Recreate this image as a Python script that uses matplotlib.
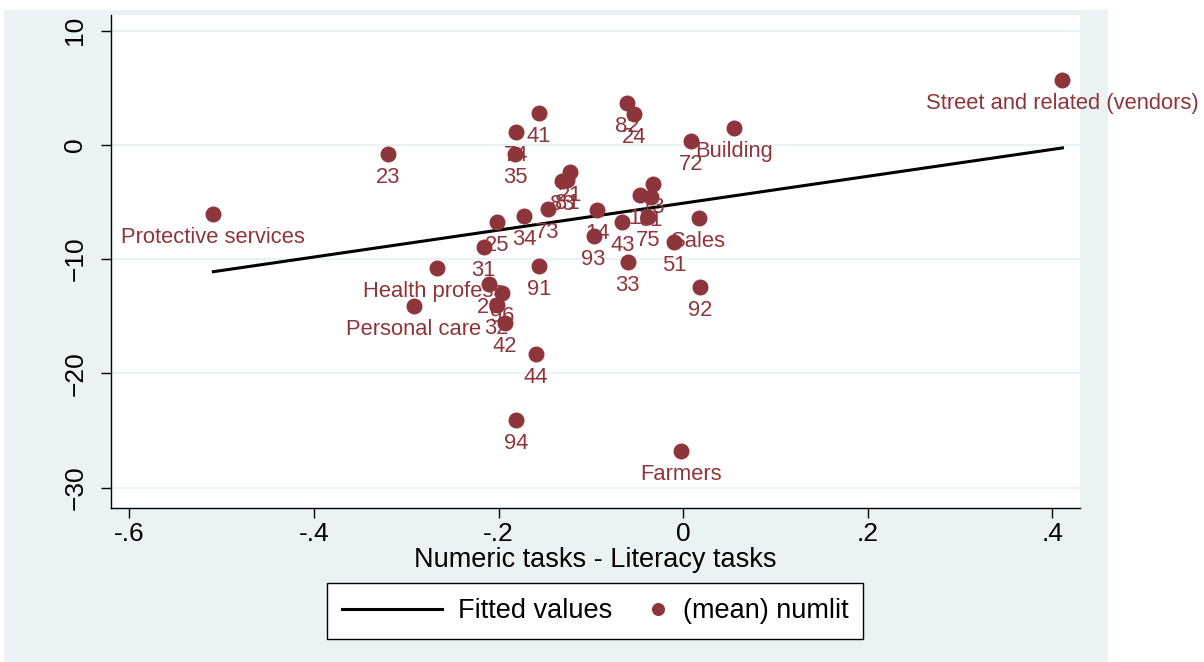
import numpy as np
import matplotlib
matplotlib.use("Agg")
import matplotlib.pyplot as plt
from matplotlib.patches import Rectangle
from matplotlib.legend_handler import HandlerLine2D

plt.rcParams['font.family'] = ['Liberation Sans', 'DejaVu Sans']

# occupation groups: label, numeric-literacy gap (x), mean numlit (y)
labels = ["Street and related (vendors)", "Building", "Protective services",
          "Health profess.", "Personal care", "Sales", "Farmers",
          "23", "41", "74", "35", "82", "24", "72", "21", "83", "81",
          "73", "34", "25", "31", "14", "93", "43", "13", "11", "61",
          "75", "51", "33", "91", "92", "26", "96", "32", "42", "44", "94"]
gap = [0.411, 0.055, -0.509, -0.267, -0.292, 0.017, -0.002,
       -0.320, -0.156, -0.181, -0.182, -0.061, -0.053, 0.009, -0.123, -0.131, -0.126,
       -0.147, -0.172, -0.202, -0.216, -0.093, -0.097, -0.066, -0.033, -0.047, -0.035,
       -0.038, -0.010, -0.060, -0.156, 0.018, -0.210, -0.196, -0.202, -0.193, -0.160, -0.181]
numlit = [5.69, 1.49, -6.04, -10.77, -14.10, -6.39, -26.80,
          -0.79, 2.80, 1.14, -0.79, 3.68, 2.71, 0.35, -2.36, -3.15, -3.06,
          -5.60, -6.22, -6.74, -8.93, -5.69, -7.97, -6.74, -3.41, -4.38, -4.55,
          -6.30, -8.49, -10.25, -10.60, -12.43, -12.17, -12.96, -14.01, -15.59, -18.30, -24.08]

# fitted values (linear fit)
fit_intercept = -5.10
fit_slope = 11.78

xticks = [-0.6, -0.4, -0.2, 0, 0.2, 0.4]
xtick_labels = ["-.6", "-.4", "-.2", "0", ".2", ".4"]
yticks = [10, 0, -10, -20, -30]

bg = "#EAF2F3"
maroon = "#8E353C"


class MarkerAtEnd(HandlerLine2D):
    # put the legend marker near the right end of its key
    def create_artists(self, legend, orig_handle, xdescent, ydescent,
                       width, height, fontsize, trans):
        arts = super().create_artists(legend, orig_handle, xdescent, ydescent,
                                      width, height, fontsize, trans)
        for a in arts:
            a.set_xdata([width - xdescent - 0.3 * fontsize])
        return arts


x = np.array(gap)
y = np.array(numlit)
xf = np.array([x.min(), x.max()])
yf = fit_intercept + fit_slope * xf

fig = plt.figure(figsize=(12.04, 6.62), dpi=100)
fig.patch.set_facecolor("white")
# graph region
fig.patches.append(Rectangle((4 / 1204, 0), (1108 - 4) / 1204, 1 - 10 / 662,
                             transform=fig.transFigure, facecolor=bg,
                             edgecolor="none", zorder=-10))

ax = fig.add_axes([111 / 1204, 1 - 508 / 662, (1080 - 111) / 1204, (508 - 15) / 662])
ax.set_facecolor("white")
ax.set_xlim(-0.620, 0.430)
ax.set_ylim(-31.79, 11.38)

for t in yticks:
    ax.axhline(t, color=bg, lw=1.6, zorder=0)

line, = ax.plot(xf, yf, color="black", lw=2.2, zorder=2)
pts, = ax.plot(x, y, "o", color=maroon, ms=10.5, zorder=4, linestyle="none")
for lab, xi, yi in zip(labels, x, y):
    ax.annotate(lab, (xi, yi), xytext=(0, -16.8), textcoords="offset points",
                ha="center", va="center", fontsize=15.8, color=maroon,
                zorder=3, annotation_clip=False)

for s in ["top", "right"]:
    ax.spines[s].set_visible(False)
ax.spines["left"].set_linewidth(1.0)
ax.spines["bottom"].set_linewidth(1.0)

ax.set_xticks(xticks)
ax.set_xticklabels(xtick_labels)
ax.set_yticks(yticks)
ax.tick_params(axis="x", length=7, width=1, pad=3, labelsize=19)
ax.tick_params(axis="y", length=7, width=1, pad=10, labelsize=19, labelrotation=90)
for t in ax.get_yticklabels():
    t.set_va("center")

ax.set_xlabel("Numeric tasks - Literacy tasks", fontsize=19.5, labelpad=1)

fig.legend([line, pts], ["Fitted values", "(mean) numlit"],
           handler_map={pts: MarkerAtEnd()},
           loc="center", bbox_to_anchor=(595 / 1204, 1 - 611 / 662), ncol=2,
           fontsize=19.5, frameon=True, fancybox=False, edgecolor="black",
           facecolor="white", framealpha=1, handlelength=3.7, columnspacing=-1.7,
           handletextpad=0.6, borderpad=0.55, markerscale=0.8)

fig.savefig("out.png", dpi=100)
